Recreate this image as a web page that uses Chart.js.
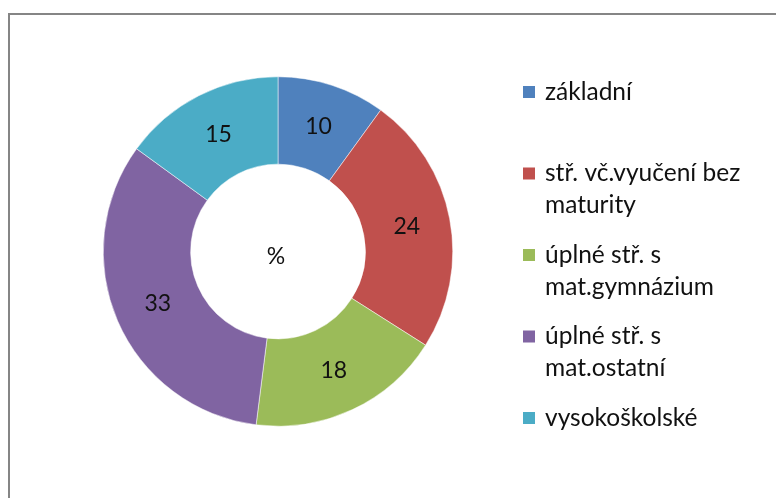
<!DOCTYPE html>
<html>
<head>
<meta charset="utf-8">
<script src="https://cdn.jsdelivr.net/npm/chart.js@4/dist/chart.umd.min.js"></script>
<style>
  html, body { margin: 0; padding: 0; background: #fff; }
  #wrap { width: 776px; height: 498px; position: relative; }
</style>
</head>
<body>
<div id="wrap"><canvas id="chart" width="776" height="498"></canvas></div>
<script>
// Education level shares (%)
const categories = [
  'základní',
  ['stř. vč.vyučení bez', 'maturity'],
  ['úplné stř. s', 'mat.gymnázium'],
  ['úplné stř. s', 'mat.ostatní'],
  'vysokoškolské'
];
const shares = [10, 24, 18, 33, 15];
const sliceColors = ['#4F81BD', '#C0504D', '#9BBB59', '#8064A2', '#4BACC6'];
const centerLabel = '%';

const FONT = 'Lato, "Open Sans", sans-serif';

// Frame line round the chart (only the top and left edges show in the picture)
const framePlugin = {
  id: 'frame',
  beforeDraw(chart) {
    const ctx = chart.ctx;
    ctx.save();
    ctx.strokeStyle = '#858585';
    ctx.lineWidth = 2;
    ctx.beginPath();
    ctx.moveTo(9, chart.height + 5);
    ctx.lineTo(9, 14);
    ctx.lineTo(chart.width + 5, 14);
    ctx.stroke();
    ctx.restore();
  }
};

// Numbers inside each slice + the "%" in the hole
const sliceLabelPlugin = {
  id: 'sliceLabels',
  afterDatasetsDraw(chart) {
    const ctx = chart.ctx;
    const meta = chart.getDatasetMeta(0);
    ctx.save();
    ctx.fillStyle = '#111';
    ctx.font = '23px ' + FONT;
    ctx.textAlign = 'center';
    ctx.textBaseline = 'middle';
    meta.data.forEach((arc, i) => {
      const p = arc.getCenterPoint();
      ctx.fillText(String(chart.data.datasets[0].data[i]), p.x, p.y);
    });
    const first = meta.data[0];
    ctx.fillText(centerLabel, first.x - 2, first.y + 5);
    ctx.restore();
  }
};

// Legend on the right, items spread evenly like the Excel original
const sideLegendPlugin = {
  id: 'sideLegend',
  afterDraw(chart) {
    const ctx = chart.ctx;
    const labels = chart.data.labels;
    const colors = chart.data.datasets[0].backgroundColor;
    const x0 = 523, textX = 545, top = 92, step = 81.5, lineH = 32;
    ctx.save();
    ctx.font = '24.5px ' + FONT;
    ctx.textBaseline = 'middle';
    labels.forEach((lab, i) => {
      const lines = Array.isArray(lab) ? lab : [lab];
      const y = top + i * step;
      ctx.fillStyle = colors[i];
      ctx.fillRect(x0, y - 6, 12, 12);
      ctx.fillStyle = '#111';
      lines.forEach((t, k) => ctx.fillText(t, textX, y + k * lineH));
    });
    ctx.restore();
  }
};

new Chart(document.getElementById('chart'), {
  type: 'doughnut',
  data: {
    labels: categories,
    datasets: [{
      data: shares,
      backgroundColor: sliceColors,
      borderColor: '#ffffff',
      borderWidth: 0.5
    }]
  },
  options: {
    responsive: false,
    animation: false,
    cutout: '50%',
    layout: {
      padding: { left: 103, right: 323, top: 76, bottom: 71 }
    },
    plugins: {
      legend: { display: false },
      tooltip: { enabled: false }
    }
  },
  plugins: [framePlugin, sliceLabelPlugin, sideLegendPlugin]
});
</script>
</body>
</html>
